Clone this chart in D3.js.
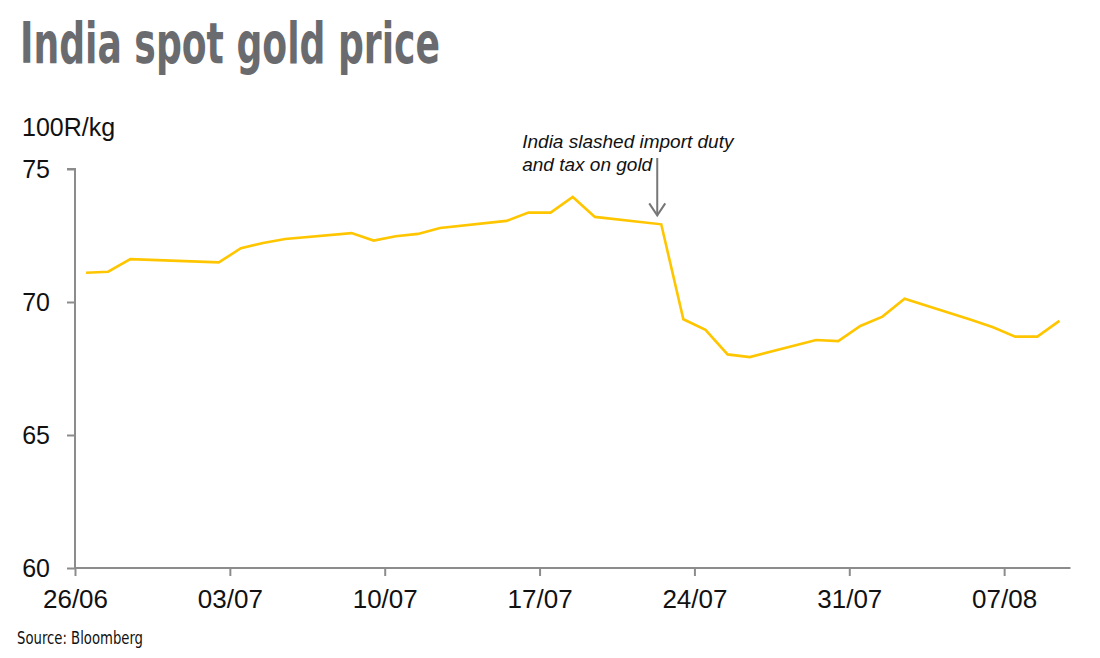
<!DOCTYPE html>
<html>
<head>
<meta charset="utf-8">
<script src="https://cdn.jsdelivr.net/npm/d3@7"></script>
<style>
  html, body { margin: 0; padding: 0; background: #fff; }
  svg { display: block; }
</style>
</head>
<body>
<svg id="chart" width="1100" height="658"></svg>
<script>
const dates = ["2024-06-26","2024-06-27","2024-06-28","2024-07-02","2024-07-03","2024-07-04","2024-07-05",
  "2024-07-08","2024-07-09","2024-07-10","2024-07-11","2024-07-12","2024-07-15","2024-07-16","2024-07-17",
  "2024-07-18","2024-07-19","2024-07-22","2024-07-23","2024-07-24","2024-07-25","2024-07-26","2024-07-29",
  "2024-07-30","2024-07-31","2024-08-01","2024-08-02","2024-08-05","2024-08-06","2024-08-07","2024-08-08","2024-08-09"];
const prices = [71.10,71.14,71.61,71.49,72.02,72.22,72.37,72.59,72.31,72.47,72.56,72.78,73.05,73.36,73.36,
  73.95,73.20,72.92,69.35,68.95,68.03,67.93,68.57,68.53,69.10,69.45,70.12,69.33,69.05,68.70,68.70,69.29];
const xTickDates = ["2024-06-26","2024-07-03","2024-07-10","2024-07-17","2024-07-24","2024-07-31","2024-08-07"];
const xTickLabels = ["26/06","03/07","10/07","17/07","24/07","31/07","07/08"];
const yTicks = [60, 65, 70, 75];
const titleText = "India spot gold price";
const unitText = "100R/kg";
const sourceText = "Source: Bloomberg";
const annotationLines = ["India slashed import duty", "and tax on gold"];
const annotationDate = "2024-07-22";

const parse = d3.utcParse("%Y-%m-%d");
const noon = d => d3.utcHour.offset(parse(d), 12);

const svg = d3.select("#chart");
const x = d3.scaleUtc().domain([parse("2024-06-26"), parse("2024-08-10")]).range([75, 1070.5]);
const y = d3.scaleLinear().domain([60, 75]).range([568, 169]);

const gray = "#8c8c8c";
const font = "'Liberation Sans', Arial, sans-serif";
const narrow = "'Liberation Sans Narrow', 'DejaVu Sans Condensed', sans-serif";

// Title
svg.append("text")
  .attr("x", 20).attr("y", 63)
  .attr("font-family", narrow).attr("font-weight", 700).attr("font-size", 57)
  .attr("fill", "#6a6b6e")
  .attr("textLength", 420).attr("lengthAdjust", "spacingAndGlyphs")
  .text(titleText);

// Unit label
svg.append("text")
  .attr("x", 22).attr("y", 136)
  .attr("font-family", font).attr("font-size", 25).attr("fill", "#111")
  .text(unitText);

// Y axis
const yAxis = d3.axisLeft(y).tickValues(yTicks).tickSize(8).tickPadding(17).tickFormat(d3.format("d"));
const gy = svg.append("g").attr("transform", "translate(75,0)").call(yAxis);
gy.select(".domain").attr("stroke", gray).attr("stroke-width", 2).attr("d", `M-8,${y(75)}H0V${y(60)}`);
gy.selectAll(".tick line").attr("stroke", gray).attr("stroke-width", 2);
gy.selectAll(".tick text").attr("font-family", font).attr("font-size", 25).attr("fill", "#111").attr("dy", "0.35em");

// X axis
const xAxis = d3.axisBottom(x).tickValues(xTickDates.map(parse)).tickSize(8).tickPadding(14)
  .tickFormat((d, i) => xTickLabels[i]);
const gx = svg.append("g").attr("transform", `translate(0,${y(60)})`).call(xAxis);
gx.select(".domain").attr("stroke", gray).attr("stroke-width", 2).attr("d", `M${x.range()[0]},0H${x.range()[1]}`);
gx.selectAll(".tick line").attr("stroke", gray).attr("stroke-width", 2);
gx.selectAll(".tick text").attr("font-family", font).attr("font-size", 26).attr("fill", "#111");

// Line
const data = dates.map((d, i) => ({ date: noon(d), value: prices[i] }));
svg.append("path").datum(data)
  .attr("fill", "none").attr("stroke", "#ffc600").attr("stroke-width", 2.6)
  .attr("stroke-linejoin", "miter")
  .attr("d", d3.line().x(d => x(d.date)).y(d => y(d.value)));

// Annotation
const ad = data[dates.indexOf(annotationDate)];
const ax = x(ad.date) - 4;
const tipY = y(ad.value) - 9;
svg.append("line").attr("x1", ax).attr("x2", ax).attr("y1", 158).attr("y2", tipY)
  .attr("stroke", "#777").attr("stroke-width", 2);
svg.append("path").attr("d", `M${ax - 8},${tipY - 12}L${ax},${tipY}L${ax + 8},${tipY - 12}`)
  .attr("fill", "none").attr("stroke", "#777").attr("stroke-width", 2);
const at = svg.append("text").attr("font-family", font).attr("font-style", "italic")
  .attr("font-size", 19).attr("fill", "#111");
annotationLines.forEach((t, i) => {
  at.append("tspan").attr("x", ax - 135).attr("y", 148 + i * 23).text(t);
});

// Source
svg.append("text")
  .attr("x", 17).attr("y", 644)
  .attr("font-family", narrow).attr("font-size", 18).attr("fill", "#111")
  .attr("textLength", 126).attr("lengthAdjust", "spacingAndGlyphs")
  .text(sourceText);
</script>
</body>
</html>
